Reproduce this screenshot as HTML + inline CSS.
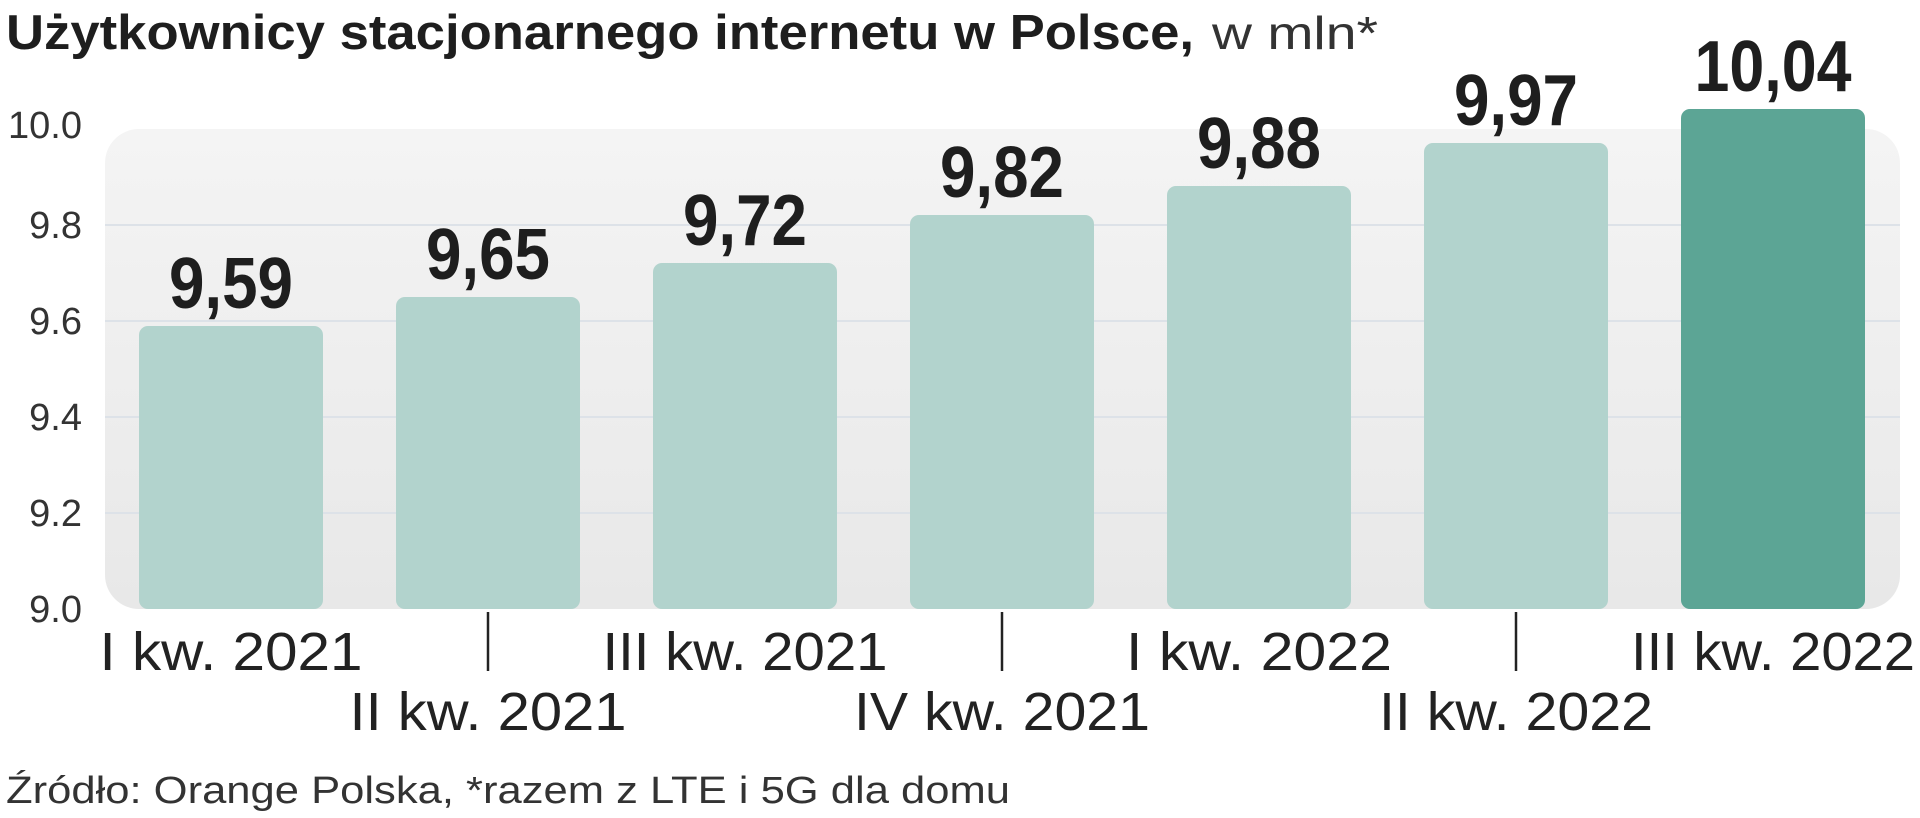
<!DOCTYPE html>
<html><head><meta charset="utf-8"><style>
html,body{margin:0;padding:0;background:#fff;}
svg{display:block;}
</style></head><body>
<svg width="1920" height="818" viewBox="0 0 1920 818" xmlns="http://www.w3.org/2000/svg">
<defs>
<linearGradient id="bg" x1="0" y1="0" x2="0" y2="1">
<stop offset="0" stop-color="#f4f4f4"/><stop offset="1" stop-color="#e8e8e8"/>
</linearGradient>
</defs>
<text x="6" y="49" font-family="Liberation Sans, sans-serif" font-weight="bold" font-size="49" fill="#1e1e1e" textLength="1188" lengthAdjust="spacingAndGlyphs">Użytkownicy stacjonarnego internetu w Polsce,</text>
<text x="1212" y="49" font-family="Liberation Sans, sans-serif" font-size="46" fill="#333" textLength="166" lengthAdjust="spacingAndGlyphs">w mln*</text>
<rect x="105" y="129" width="1795" height="480" rx="34" fill="url(#bg)"/>
<g stroke="#dde2e8" stroke-width="2">
<line x1="105" y1="225" x2="1900" y2="225"/>
<line x1="105" y1="321" x2="1900" y2="321"/>
<line x1="105" y1="417" x2="1900" y2="417"/>
<line x1="105" y1="513" x2="1900" y2="513"/>
</g>
<g font-family="Liberation Sans, sans-serif" font-size="38" fill="#333" text-anchor="end">
<text x="82" y="138">10.0</text>
<text x="82" y="238">9.8</text>
<text x="82" y="334">9.6</text>
<text x="82" y="430">9.4</text>
<text x="82" y="526">9.2</text>
<text x="82" y="622">9.0</text>
</g>
<g fill="#b2d3cd">
<rect x="139" y="326" width="184" height="283" rx="9"/>
<rect x="396" y="297" width="184" height="312" rx="9"/>
<rect x="653" y="263" width="184" height="346" rx="9"/>
<rect x="910" y="215" width="184" height="394" rx="9"/>
<rect x="1167" y="186" width="184" height="423" rx="9"/>
<rect x="1424" y="143" width="184" height="466" rx="9"/>
</g>
<rect x="1681" y="109" width="184" height="500" rx="9" fill="#5ca595"/>
<g font-family="Liberation Sans, sans-serif" font-weight="bold" font-size="72" fill="#1e1e1e" text-anchor="middle">
<text x="231" y="308" textLength="124" lengthAdjust="spacingAndGlyphs">9,59</text>
<text x="488" y="279" textLength="124" lengthAdjust="spacingAndGlyphs">9,65</text>
<text x="745" y="245" textLength="124" lengthAdjust="spacingAndGlyphs">9,72</text>
<text x="1002" y="197" textLength="124" lengthAdjust="spacingAndGlyphs">9,82</text>
<text x="1259" y="168" textLength="124" lengthAdjust="spacingAndGlyphs">9,88</text>
<text x="1516" y="125" textLength="124" lengthAdjust="spacingAndGlyphs">9,97</text>
<text x="1773" y="91" textLength="157" lengthAdjust="spacingAndGlyphs">10,04</text>
</g>
<g stroke="#222" stroke-width="2.5">
<line x1="488" y1="612" x2="488" y2="671"/>
<line x1="1002" y1="612" x2="1002" y2="671"/>
<line x1="1516" y1="612" x2="1516" y2="671"/>
</g>
<g font-family="Liberation Sans, sans-serif" font-size="54" fill="#222" text-anchor="middle">
<text x="231" y="670" textLength="263" lengthAdjust="spacingAndGlyphs">I kw. 2021</text>
<text x="488" y="730" textLength="277" lengthAdjust="spacingAndGlyphs">II kw. 2021</text>
<text x="745" y="670" textLength="285" lengthAdjust="spacingAndGlyphs">III kw. 2021</text>
<text x="1002" y="730" textLength="296" lengthAdjust="spacingAndGlyphs">IV kw. 2021</text>
<text x="1259" y="670" textLength="266" lengthAdjust="spacingAndGlyphs">I kw. 2022</text>
<text x="1516" y="730" textLength="274" lengthAdjust="spacingAndGlyphs">II kw. 2022</text>
<text x="1773" y="670" textLength="284" lengthAdjust="spacingAndGlyphs">III kw. 2022</text>
</g>
<text x="6" y="803" font-family="Liberation Sans, sans-serif" font-size="38" fill="#333" textLength="1004" lengthAdjust="spacingAndGlyphs">Źródło: Orange Polska, *razem z LTE i 5G dla domu</text>
</svg>
</body></html>
